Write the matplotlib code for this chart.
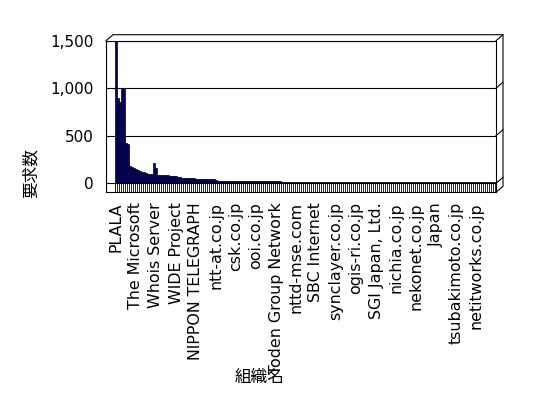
import matplotlib
matplotlib.use("Agg")
import matplotlib.pyplot as plt
import numpy as np

plt.rcParams['font.family'] = ['DejaVu Sans', 'Noto Sans CJK JP']

# request counts per organisation (190 bars)
counts = [
    1500, 900, 850, 1000, 1000, 420, 410, 180, 170, 160,
    150, 140, 130, 120, 115, 110, 100, 100, 100, 215,
    160, 92, 90, 90, 89, 88, 88, 80, 80, 79,
    78, 66, 65, 56, 55, 55, 54, 54, 53, 52,
    46, 46, 45, 45, 44, 44, 43, 43, 42, 42,
    30, 29, 29, 28, 28, 28, 27, 27, 27, 26,
    26, 26, 25, 25, 22, 22, 22, 22, 21, 21,
    21, 21, 21, 21, 20, 20, 20, 20, 20, 20,
    20, 20, 20, 18, 18, 18, 18, 18, 18, 18,
    18, 18, 18, 18, 17, 17, 17, 17, 17, 17,
    17, 17, 17, 17, 17, 16, 16, 16, 16, 16,
    16, 16, 16, 16, 16, 15, 15, 15, 15, 15,
    15, 10, 10, 10, 10, 10, 10, 10, 10, 10,
    10, 10, 10, 10, 10, 10, 10, 10, 10, 10,
    10, 10, 10, 10, 10, 10, 10, 10, 10, 10,
    10, 10, 10, 10, 10, 10, 10, 10, 10, 10,
    10, 10, 10, 10, 10, 10, 10, 10, 10, 10,
    9, 9, 9, 9, 9, 9, 9, 9, 9, 9,
    9, 9, 9, 9, 9, 9, 9, 9, 9, 9,
]

# every 10th organisation gets a label
shown_labels = [
    "PLALA", "The Microsoft", "Whois Server", "WIDE Project",
    "NIPPON TELEGRAPH", "ntt-at.co.jp", "csk.co.jp", "ooi.co.jp",
    "Toden Group Network", "nttd-mse.com", "SBC Internet",
    "synclayer.co.jp", "ogis-ri.co.jp", "SGI Japan, Ltd.",
    "nichia.co.jp", "nekonet.co.jp", "Japan", "tsubakimoto.co.jp",
    "netitworks.co.jp",
]
y_ticks = [0, 500, 1000, 1500]
y_ticklabels = ["0", "500", "1,000", "1,500"]

W, H = 548, 398
fig = plt.figure(figsize=(W / 100, H / 100), dpi=100)
fig.patch.set_facecolor("white")

left, right, top, bottom = 106, 496, 40.7, 192.3
ax = fig.add_axes([left / W, 1 - bottom / H, (right - left) / W, (bottom - top) / H])

n = len(counts)
x = np.arange(n)
floor = -95
ax.set_xlim(-5, n)
ax.set_ylim(floor, 1500)

ax.bar(x, counts, width=1.0, color="#000080", edgecolor="black", linewidth=0.5, zorder=3)

# striped floor strip under the bars
ax.vlines(np.arange(n + 1) - 0.5, floor, 0, color="black", linewidth=0.6, zorder=2)

# grid lines
for v in y_ticks:
    ax.axhline(v, color="black", linewidth=0.8, zorder=1)

ax.set_yticks(y_ticks)
ax.set_yticklabels(y_ticklabels)
ax.set_xticks(x[::10])
ax.set_xticklabels(shown_labels, rotation=90)
ax.tick_params(axis="y", length=0, pad=9, labelsize=11)
ax.tick_params(axis="x", length=0, pad=7, labelsize=11.4)

for s in ax.spines.values():
    s.set_color("black")
    s.set_linewidth(0.8)

# pseudo-3D rim (top and right)
dx, dy = 3.5, 63
kw = dict(color="black", linewidth=0.8, clip_on=False, zorder=5)
ax.plot([-5, -5 + dx, n + dx, n + dx, n], [1500, 1500 + dy, 1500 + dy, floor + dy, floor], **kw)
for v in y_ticks:
    ax.plot([n, n + dx], [v, v + dy], **kw)

fig.text(31 / W, 1 - 173 / H, "要求数", rotation=90, ha="center", va="center",
         fontsize=12, family=["Noto Sans CJK JP"])
fig.text(260 / W, 1 - 377 / H, "組織名", ha="center", va="center",
         fontsize=12, family=["Noto Sans CJK JP"])

fig.savefig("out.png", dpi=100, facecolor="white")
